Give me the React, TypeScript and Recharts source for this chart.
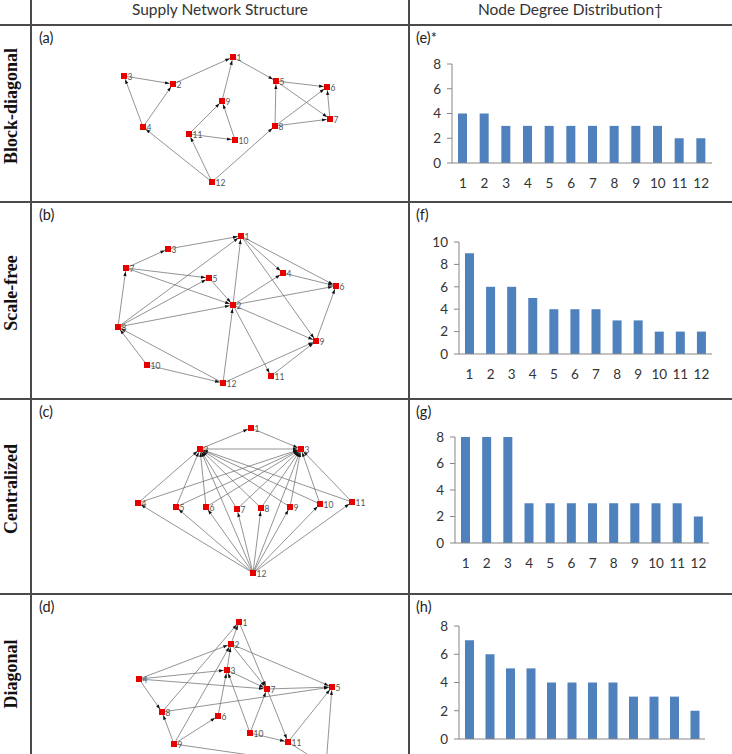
import React from 'react';
import { BarChart, Bar, XAxis, YAxis, ScatterChart, Scatter, ReferenceLine } from 'recharts';

type Node = { id: number; x: number; y: number };
type Edge = [number, number];

// Node layouts for the four supply networks, in cell units (x right, y down)
const blockNodes: Node[] = [
  { id: 1, x: 201, y: 31 }, { id: 2, x: 141, y: 58 }, { id: 3, x: 92, y: 50 },
  { id: 4, x: 111, y: 101 }, { id: 5, x: 244, y: 55 }, { id: 6, x: 295, y: 61 },
  { id: 7, x: 298, y: 93 }, { id: 8, x: 243, y: 100 }, { id: 9, x: 190, y: 75 },
  { id: 10, x: 203, y: 114 }, { id: 11, x: 157, y: 108 }, { id: 12, x: 180, y: 156 },
];
const blockEdges: Edge[] = [
  [3, 2], [2, 1], [4, 3], [4, 2], [12, 4], [1, 5], [9, 1], [10, 9], [11, 9],
  [11, 10], [12, 11], [12, 8], [8, 5], [5, 7], [8, 6], [8, 7], [7, 6], [5, 6],
];

const scaleFreeNodes: Node[] = [
  { id: 1, x: 209, y: 33 }, { id: 2, x: 201, y: 102 }, { id: 3, x: 136, y: 46 },
  { id: 4, x: 251, y: 70 }, { id: 5, x: 177, y: 75 }, { id: 6, x: 304, y: 83 },
  { id: 7, x: 94, y: 65 }, { id: 8, x: 86, y: 124 }, { id: 9, x: 284, y: 138 },
  { id: 10, x: 115, y: 162 }, { id: 11, x: 239, y: 173 }, { id: 12, x: 191, y: 180 },
];
const scaleFreeEdges: Edge[] = [
  [3, 1], [7, 3], [7, 5], [7, 2], [8, 7], [8, 1], [8, 5], [8, 2], [12, 8],
  [10, 8], [10, 12], [12, 2], [12, 9], [2, 1], [5, 2], [2, 4], [2, 6], [2, 9],
  [2, 11], [1, 4], [1, 6], [1, 9], [4, 6], [9, 6], [11, 9],
];

const centralNodes: Node[] = [
  { id: 1, x: 219, y: 28 }, { id: 2, x: 168, y: 49 }, { id: 3, x: 269, y: 49 },
  { id: 4, x: 106, y: 103 }, { id: 5, x: 144, y: 107 }, { id: 6, x: 174, y: 107 },
  { id: 7, x: 205, y: 109 }, { id: 8, x: 229, y: 108 }, { id: 9, x: 258, y: 107 },
  { id: 10, x: 288, y: 104 }, { id: 11, x: 320, y: 102 }, { id: 12, x: 221, y: 173 },
];
const centralEdges: Edge[] = [
  [2, 1], [1, 3], [2, 3],
  [4, 2], [5, 2], [6, 2], [7, 2], [8, 2], [9, 2], [10, 2], [11, 2],
  [4, 3], [5, 3], [6, 3], [7, 3], [8, 3], [9, 3], [10, 3], [11, 3],
  [12, 4], [12, 5], [12, 6], [12, 7], [12, 8], [12, 9], [12, 10], [12, 11],
  [12, 2], [12, 3],
];

const diagonalNodes: Node[] = [
  { id: 1, x: 207, y: 27 }, { id: 2, x: 199, y: 49 }, { id: 3, x: 195, y: 75 },
  { id: 4, x: 107, y: 84 }, { id: 5, x: 300, y: 92 }, { id: 6, x: 186, y: 121 },
  { id: 7, x: 235, y: 94 }, { id: 8, x: 130, y: 117 }, { id: 9, x: 142, y: 149 },
  { id: 10, x: 218, y: 138 }, { id: 11, x: 256, y: 147 }, { id: 12, x: 294, y: 171 },
];
const diagonalEdges: Edge[] = [
  [4, 2], [4, 3], [4, 7], [7, 5], [4, 8], [8, 1], [9, 8], [8, 5], [9, 2],
  [9, 6], [9, 12], [6, 3], [3, 2], [2, 1], [1, 7], [2, 7], [3, 7], [2, 5],
  [10, 3], [10, 7], [7, 11], [10, 11], [11, 5], [11, 12], [12, 5],
];

// Degree distributions, ranked
const rankLabels = [1, 2, 3, 4, 5, 6, 7, 8, 9, 10, 11, 12];
const rankEdges = [0.5, 1.5, 2.5, 3.5, 4.5, 5.5, 6.5, 7.5, 8.5, 9.5, 10.5, 11.5, 12.5];
const blockDegree = [4, 4, 3, 3, 3, 3, 3, 3, 3, 3, 2, 2];
const scaleFreeDegree = [9, 6, 6, 5, 4, 4, 4, 3, 3, 2, 2, 2];
const centralDegree = [8, 8, 8, 3, 3, 3, 3, 3, 3, 3, 3, 2];
const diagonalDegree = [7, 6, 5, 5, 4, 4, 4, 4, 3, 3, 3, 2];
const ticksTo8 = [0, 2, 4, 6, 8];
const ticksTo10 = [0, 2, 4, 6, 8, 10];

const rowNames = ['Block-diagonal', 'Scale-free', 'Centralized', 'Diagonal'];
const networkTags = ['(a)', '(b)', '(c)', '(d)'];
const degreeTags = ['(e)*', '(f)', '(g)', '(h)'];

const W = 732;
const H = 754;
const COL1 = 31;
const COL2 = 409;
const ROW_LINES = [25, 202, 399, 594];
const CELL_H = [176, 196, 194, 194];
const LINE = '#4a4a4a';
const AXIS = '#868686';
const FONT = 'Lato, "Open Sans", sans-serif';

const rows = [
  { nodes: blockNodes, edges: blockEdges, degree: blockDegree, yMax: 8, yTicks: ticksTo8, plot: { left: 452, right: 712, top: 64, bottom: 163 } },
  { nodes: scaleFreeNodes, edges: scaleFreeEdges, degree: scaleFreeDegree, yMax: 10, yTicks: ticksTo10, plot: { left: 459, right: 712, top: 242, bottom: 354 } },
  { nodes: centralNodes, edges: centralEdges, degree: centralDegree, yMax: 8, yTicks: ticksTo8, plot: { left: 455, right: 709, top: 437, bottom: 543 } },
  { nodes: diagonalNodes, edges: diagonalEdges, degree: diagonalDegree, yMax: 8, yTicks: ticksTo8, plot: { left: 459, right: 705, top: 626, bottom: 739 } },
];

// edge line with a small arrowhead stopping at the target square
const ArrowEdge = (p: any) => {
  const { x1, y1, x2, y2 } = p;
  const dx = x2 - x1;
  const dy = y2 - y1;
  const len = Math.hypot(dx, dy) || 1;
  const ux = dx / len;
  const uy = dy / len;
  const tx = x2 - ux * 3.5;
  const ty = y2 - uy * 3.5;
  const bx = tx - ux * 4.5;
  const by = ty - uy * 4.5;
  const nx = -uy * 1.6;
  const ny = ux * 1.6;
  return (
    <g>
      <line x1={x1} y1={y1} x2={x2} y2={y2} stroke="#707070" strokeWidth={0.75} />
      <polygon points={`${tx},${ty} ${bx + nx},${by + ny} ${bx - nx},${by - ny}`} fill="#111" />
    </g>
  );
};

const NodeSquare = (p: any) => {
  const { cx, cy, payload } = p;
  return (
    <g>
      <rect x={cx - 3} y={cy - 3} width={6} height={6} fill="#e60000" />
      <text x={cx + 3.5} y={cy + 3.5} fontSize={8.5} fill="#555" fontFamily={FONT}>
        {payload.id}
      </text>
    </g>
  );
};

function Network({ nodes, edges, height }: { nodes: Node[]; edges: Edge[]; height: number }) {
  const width = COL2 - COL1 - 1;
  const byId = new Map(nodes.map((n) => [n.id, n]));
  return (
    <ScatterChart width={width} height={height} margin={{ top: 0, right: 0, bottom: 0, left: 0 }}>
      <XAxis type="number" dataKey="x" domain={[0, width]} hide allowDataOverflow />
      <YAxis type="number" dataKey="y" domain={[0, height]} reversed hide allowDataOverflow />
      {edges.map(([a, b], i) => {
        const s = byId.get(a)!;
        const t = byId.get(b)!;
        return (
          <ReferenceLine
            key={i}
            segment={[{ x: s.x, y: s.y }, { x: t.x, y: t.y }]}
            ifOverflow="visible"
            stroke="#707070"
            shape={ArrowEdge}
          />
        );
      })}
      <Scatter data={nodes} shape={NodeSquare} isAnimationActive={false} />
    </ScatterChart>
  );
}

function DegreeChart({ values, yMax, yTicks, plot, top, height }: any) {
  const data = rankLabels.map((r, i) => ({ rank: r, degree: values[i] }));
  const left = COL2 + 1;
  const margin = {
    left: plot.left - left - 1,
    right: W - plot.right,
    top: plot.top - top,
    bottom: top + height - plot.bottom - 2,
  };
  return (
    <BarChart width={W - left} height={height} data={data} margin={margin}>
      <XAxis
        xAxisId="edge"
        type="number"
        domain={[0.5, 12.5]}
        ticks={rankEdges}
        allowDataOverflow
        height={1}
        tick={false}
        tickSize={5}
        axisLine={false}
        tickLine={{ stroke: AXIS }}
      />
      <XAxis
        dataKey="rank"
        type="number"
        domain={[0.5, 12.5]}
        ticks={rankLabels}
        interval={0}
        allowDataOverflow
        height={1}
        tickLine={false}
        tickSize={6}
        tickMargin={9}
        axisLine={{ stroke: AXIS }}
        tick={{ fill: '#333', fontSize: 13.5 }}
      />
      <YAxis
        type="number"
        domain={[0, yMax]}
        ticks={yTicks}
        interval={0}
        width={1}
        tickSize={5}
        tickMargin={6}
        axisLine={{ stroke: AXIS }}
        tickLine={{ stroke: AXIS }}
        tick={{ fill: '#333', fontSize: 13.5 }}
      />
      <Bar dataKey="degree" fill="#4f81bd" barSize={9} isAnimationActive={false} />
    </BarChart>
  );
}

const abs = (style: React.CSSProperties): React.CSSProperties => ({ position: 'absolute', ...style });

export default function App() {
  return (
    <div
      style={abs({
        left: 0,
        top: 0,
        width: W,
        height: H,
        overflow: 'hidden',
        background: '#fff',
        fontFamily: FONT,
        color: '#222',
      })}
    >
      {/* table rules */}
      <div style={abs({ left: COL1 - 0.75, top: 0, width: 1.5, height: H, background: LINE })} />
      <div style={abs({ left: COL2 - 0.75, top: 0, width: 1.5, height: H, background: LINE })} />
      {ROW_LINES.map((y) => (
        <div key={y} style={abs({ left: 0, top: y - 0.75, width: W, height: 1.5, background: LINE })} />
      ))}

      {/* header */}
      <div style={abs({ left: COL1, width: COL2 - COL1, top: 0, lineHeight: '18px', fontSize: 15.5, textAlign: 'center', color: '#333' })}>
        Supply Network Structure
      </div>
      <div style={abs({ left: COL2, width: W - COL2, top: 0, lineHeight: '18px', fontSize: 15.5, textAlign: 'center', color: '#333' })}>
        Node Degree Distribution†
      </div>

      {rows.map((row, i) => {
        const top = ROW_LINES[i] + 1;
        const h = CELL_H[i];
        const next = i < 3 ? ROW_LINES[i + 1] : ROW_LINES[3] + 190;
        const mid = (ROW_LINES[i] + next) / 2 - 8;
        return (
          <React.Fragment key={i}>
            <div
              style={abs({
                left: 11 - 100,
                top: (i === 3 ? 674 : mid) - 12,
                width: 200,
                height: 24,
                lineHeight: '24px',
                textAlign: 'center',
                transform: 'rotate(-90deg)',
                fontFamily: '"Liberation Serif", "Times New Roman", serif',
                fontWeight: 'bold',
                fontSize: 18,
                color: '#111',
              })}
            >
              {rowNames[i]}
            </div>
            <div style={abs({ left: COL1 + 1, top, width: COL2 - COL1 - 1, height: h })}>
              <Network nodes={row.nodes} edges={row.edges} height={h} />
            </div>
            <div style={abs({ left: COL2 + 1, top, width: W - COL2 - 1, height: h })}>
              <DegreeChart values={row.degree} yMax={row.yMax} yTicks={row.yTicks} plot={row.plot} top={top} height={h} />
            </div>
            <div style={abs({ left: 39, top: ROW_LINES[i] + 4, fontSize: 14.5, lineHeight: '18px', color: '#222' })}>
              {networkTags[i]}
            </div>
            <div style={abs({ left: 416, top: ROW_LINES[i] + 4, fontSize: 14.5, lineHeight: '18px', color: '#222' })}>
              {degreeTags[i]}
            </div>
          </React.Fragment>
        );
      })}
    </div>
  );
}
